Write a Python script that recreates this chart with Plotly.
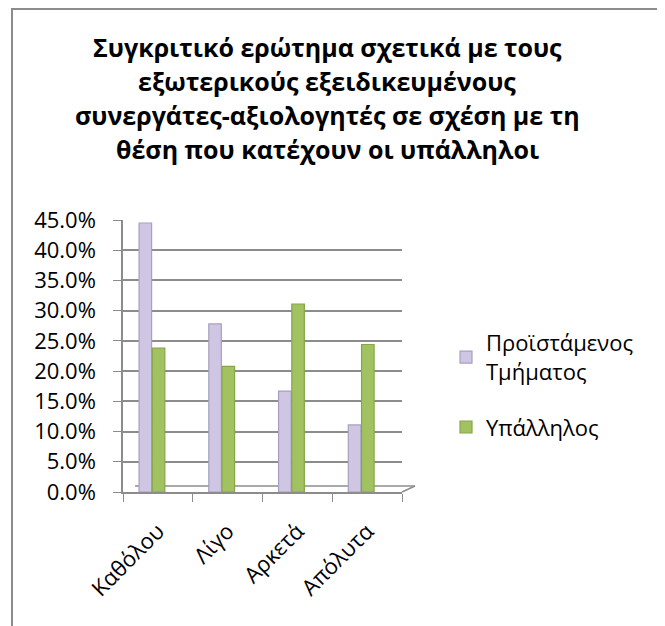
import plotly.graph_objects as go

categories = ["Καθόλου", "Λίγο", "Αρκετά", "Απόλυτα"]
series_names = ["Προϊστάμενος<br>Τμήματος", "Υπάλληλος"]
proistamenos = [0.445, 0.278, 0.167, 0.111]
ypallilos = [0.238, 0.208, 0.311, 0.244]
y_ticks = [0.0, 0.05, 0.10, 0.15, 0.20, 0.25, 0.30, 0.35, 0.40, 0.45]
y_tick_labels = ["0.0%", "5.0%", "10.0%", "15.0%", "20.0%", "25.0%", "30.0%", "35.0%", "40.0%", "45.0%"]
title_lines = [
    "Συγκριτικό ερώτημα σχετικά με τους",
    "εξωτερικούς εξειδικευμένους",
    "συνεργάτες-αξιολογητές σε σχέση με τη",
    "θέση που κατέχουν οι υπάλληλοι",
]

# page body has an 8px margin, so the figure is shifted by 8px
OFF = 8
W, H = 665 - OFF, 626 - OFF
ML, MR, MT, MB = 123 - OFF, 665 - 402, 220 - OFF, 626 - 492
FONT = "Open Sans"
GRAY = "#8C8C8C"

def px_x(p):
    return (p - OFF - ML) / (W - ML - MR)

def px_y(p):
    return 1 - (p - OFF - MT) / (H - MT - MB)

fig = go.Figure()
fig.add_trace(go.Bar(
    x=categories, y=proistamenos, name=series_names[0], legendgroup="g1",
    width=0.18, offset=-0.27,
    marker=dict(color="#CFC6E3", line=dict(color="#A9A0BF", width=1.2)),
))
fig.add_trace(go.Bar(
    x=categories, y=ypallilos, name=series_names[1], legendgroup="g2",
    width=0.18, offset=-0.08,
    marker=dict(color="#A2C262", line=dict(color="#86A648", width=1.2)),
))

annotations = []
for i, line in enumerate(title_lines):
    annotations.append(dict(
        text="<b>" + line + "</b>", xref="paper", yref="paper",
        x=px_x(327), y=px_y(47 + 34 * i), xanchor="center", yanchor="middle",
        showarrow=False, font=dict(family=FONT, size=25, color="#000000"),
    ))

shapes = [
    dict(type="rect", xref="paper", yref="paper",
         x0=px_x(12), x1=px_x(720), y0=px_y(720), y1=px_y(OFF + 1),
         line=dict(color=GRAY, width=2), layer="below"),
    # 3D floor back edge and right side
    dict(type="line", xref="paper", yref="paper",
         x0=px_x(135), x1=px_x(415), y0=px_y(486), y1=px_y(486),
         line=dict(color=GRAY, width=1.5), layer="below"),
    dict(type="line", xref="paper", yref="paper",
         x0=px_x(402), x1=px_x(415), y0=px_y(492), y1=px_y(486),
         line=dict(color=GRAY, width=1.5), layer="below"),
]

fig.update_layout(
    width=W, height=H,
    margin=dict(l=ML, r=MR, t=MT, b=MB, pad=0),
    paper_bgcolor="white", plot_bgcolor="white",
    barmode="group",
    font=dict(family=FONT, size=22, color="#000000"),
    showlegend=True,
    legend=dict(x=px_x(446), y=px_y(322), xanchor="left", yanchor="top",
                font=dict(family=FONT, size=22), itemwidth=30,
                tracegroupgap=24, bgcolor="rgba(0,0,0,0)"),
    annotations=annotations,
    shapes=shapes,
    xaxis=dict(
        showgrid=False, showline=True, linecolor=GRAY, linewidth=1.5,
        ticks="outside", ticklen=8, tickcolor=GRAY, tickangle=-45,
        tickfont=dict(family=FONT, size=22), tickson="boundaries",
        ticklabelstandoff=16,
    ),
    yaxis=dict(
        range=[0, 0.45], tickvals=y_ticks, ticktext=y_tick_labels,
        showgrid=True, gridcolor=GRAY, gridwidth=1.5,
        showline=True, linecolor=GRAY, linewidth=1.5,
        ticks="outside", ticklen=8, tickcolor=GRAY,
        tickfont=dict(family=FONT, size=22), zeroline=False,
        ticklabelstandoff=13,
    ),
)

fig.write_html("out.html")
